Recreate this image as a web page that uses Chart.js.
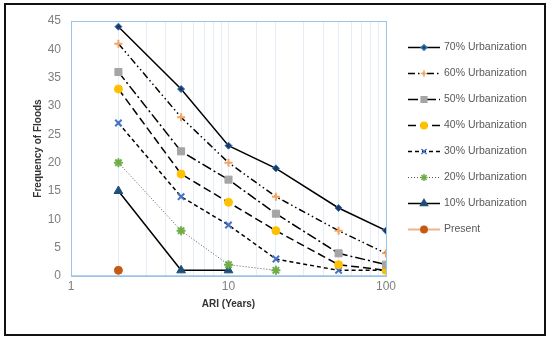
<!DOCTYPE html>
<html>
<head>
<meta charset="utf-8">
<script src="https://cdn.jsdelivr.net/npm/chart.js@4/dist/chart.umd.min.js"></script>
<style>
  html, body { margin: 0; padding: 0; background: #fff; }
  #wrap { position: relative; width: 550px; height: 341px; }
  #chart { position: absolute; left: 0; top: 0; }
  #frame { position: absolute; left: 4px; top: 3px; width: 542px; height: 333px;
           border: 2px solid #111; box-sizing: border-box; pointer-events: none; }
</style>
</head>
<body>
<div id="wrap">
  <canvas id="chart" width="550" height="341"></canvas>
  <div id="frame"></div>
</div>
<script>
// ARI values (years) on the log x axis
const ari = [2, 5, 10, 20, 50, 100];

const urban70 = [44, 33, 23, 19, 12, 8];
const urban60 = [41, 28, 20, 14, 8, 4];
const urban50 = [36, 22, 17, 11, 4, 2];
const urban40 = [33, 18, 13, 8, 2, 1];
const urban30 = [27, 14, 9, 3, 1, 1];
const urban20 = [20, 8, 2, 1, null, null];
const urban10 = [15, 1, 1, null, null, null];
const present = [1, null, null, null, null, null];

const seriesNames = ['70% Urbanization', '60% Urbanization', '50% Urbanization', '40% Urbanization',
                     '30% Urbanization', '20% Urbanization', '10% Urbanization', 'Present'];

const xTickLabels = [1, 10, 100];
const yTicks = { min: 0, max: 45, step: 5 };

function points(values) {
    const out = [];
    values.forEach(function(v, i) {
        if (v !== null) out.push({ x: ari[i], y: v });
    });
    return out;
}

function series(name, values, style) {
    return Object.assign({
        label: name,
        data: points(values),
        borderColor: '#000',
        borderWidth: 1.5,
        pointRadius: 4,
        pointBorderWidth: 1,
        tension: 0,
        fill: false
    }, style);
}

const datasets = [
    series(seriesNames[0], urban70, { pointStyle: 'rectRot', pointRadius: 3.5, pointBackgroundColor: '#1f3864', pointBorderColor: '#2e75b6' }),
    series(seriesNames[1], urban60, { borderDash: [7, 3, 1.5, 3, 1.5, 3], pointStyle: 'cross', pointRadius: 4, pointBorderWidth: 2, pointBackgroundColor: '#ed7d31', pointBorderColor: '#f4a460' }),
    series(seriesNames[2], urban50, { borderDash: [10, 3, 2, 3], pointStyle: 'rect', pointRadius: 5, pointBackgroundColor: '#a5a5a5', pointBorderColor: '#a5a5a5' }),
    series(seriesNames[3], urban40, { borderDash: [8, 4], pointStyle: 'circle', pointRadius: 4, pointBackgroundColor: '#ffc000', pointBorderColor: '#ffc000' }),
    series(seriesNames[4], urban30, { borderDash: [4, 3], pointStyle: 'crossRot', pointRadius: 4.5, pointBorderWidth: 2, pointBackgroundColor: '#4472c4', pointBorderColor: '#4472c4' }),
    series(seriesNames[5], urban20, { borderColor: '#555', borderWidth: 1, borderDash: [1, 2], pointStyle: 'star', pointRadius: 4.5, pointBorderWidth: 2, pointBackgroundColor: '#70ad47', pointBorderColor: '#70ad47' }),
    series(seriesNames[6], urban10, { pointStyle: 'triangle', pointRadius: 5, pointBackgroundColor: '#1f4e79', pointBorderColor: '#1f4e79' }),
    series(seriesNames[7], present, { borderColor: '#f4b183', borderWidth: 2, pointStyle: 'circle', pointRadius: 4, pointBackgroundColor: '#c55a11', pointBorderColor: '#c55a11' })
];

// plot border plus a line-and-marker legend on the right
const decorations = {
    id: 'decorations',
    afterDraw: function(chart) {
        const ctx = chart.ctx;
        const a = chart.chartArea;
        ctx.save();
        ctx.strokeStyle = '#9dc3e6';
        ctx.lineWidth = 1;
        ctx.strokeRect(a.left + 0.5, a.top + 0.5, a.right - a.left, a.bottom - a.top);
        ctx.lineWidth = 1.5;
        ctx.beginPath();
        ctx.moveTo(a.left, a.bottom);
        ctx.lineTo(a.right, a.bottom);
        ctx.stroke();

        const x0 = 408, x1 = 440, textX = 444, y0 = 47.5, gap = 26;
        ctx.font = '10.5px "Liberation Sans", Arial, sans-serif';
        ctx.textBaseline = 'middle';
        chart.data.datasets.forEach(function(ds, i) {
            const y = y0 + i * gap;
            ctx.save();
            ctx.strokeStyle = ds.borderColor;
            ctx.lineWidth = ds.borderWidth;
            ctx.setLineDash(ds.borderDash || []);
            ctx.beginPath();
            ctx.moveTo(x0, y);
            ctx.lineTo(x1, y);
            ctx.stroke();
            ctx.restore();
            ctx.save();
            ctx.fillStyle = ds.pointBackgroundColor;
            ctx.strokeStyle = ds.pointBorderColor;
            Chart.helpers.drawPoint(ctx, {
                pointStyle: ds.pointStyle,
                radius: ds.pointRadius * 0.8,
                rotation: 0,
                borderWidth: ds.pointBorderWidth
            }, (x0 + x1) / 2, y);
            ctx.restore();
            ctx.fillStyle = '#595959';
            ctx.fillText(ds.label, textX, y);
        });
        ctx.restore();
    }
};

new Chart(document.getElementById('chart'), {
    type: 'line',
    data: { datasets: datasets },
    plugins: [decorations],
    options: {
        responsive: false,
        animation: false,
        layout: { padding: { left: 0, top: 21, right: 164, bottom: 0 } },
        plugins: { legend: { display: false }, tooltip: { enabled: false } },
        scales: {
            x: {
                type: 'logarithmic',
                min: 1,
                max: 100,
                border: { display: false },
                grid: { color: '#e6edf5', drawTicks: false },
                ticks: {
                    autoSkip: false,
                    maxRotation: 0,
                    padding: 3,
                    color: '#7f7f7f',
                    font: { size: 12, family: '"Liberation Sans", Arial, sans-serif' },
                    callback: function(value) {
                        return xTickLabels.indexOf(value) >= 0 ? String(value) : '';
                    }
                },
                title: {
                    display: true,
                    text: 'ARI (Years)',
                    color: '#333',
                    font: { size: 10, weight: 'bold', family: '"Liberation Sans", Arial, sans-serif' },
                    padding: { top: 31, bottom: 31 }
                },
                afterFit: function(s) { s.height = 65; }
            },
            y: {
                min: yTicks.min,
                max: yTicks.max,
                border: { display: false },
                grid: { display: false, drawTicks: false },
                ticks: {
                    stepSize: yTicks.step,
                    padding: 10,
                    color: '#7f7f7f',
                    font: { size: 12, family: '"Liberation Sans", Arial, sans-serif' }
                },
                title: {
                    display: true,
                    text: 'Frequency of Floods',
                    color: '#333',
                    font: { size: 10, weight: 'bold', family: '"Liberation Sans", Arial, sans-serif' },
                    padding: { top: 32, bottom: 32 }
                },
                afterFit: function(s) { s.width = 71; }
            }
        }
    }
});
</script>
</body>
</html>
